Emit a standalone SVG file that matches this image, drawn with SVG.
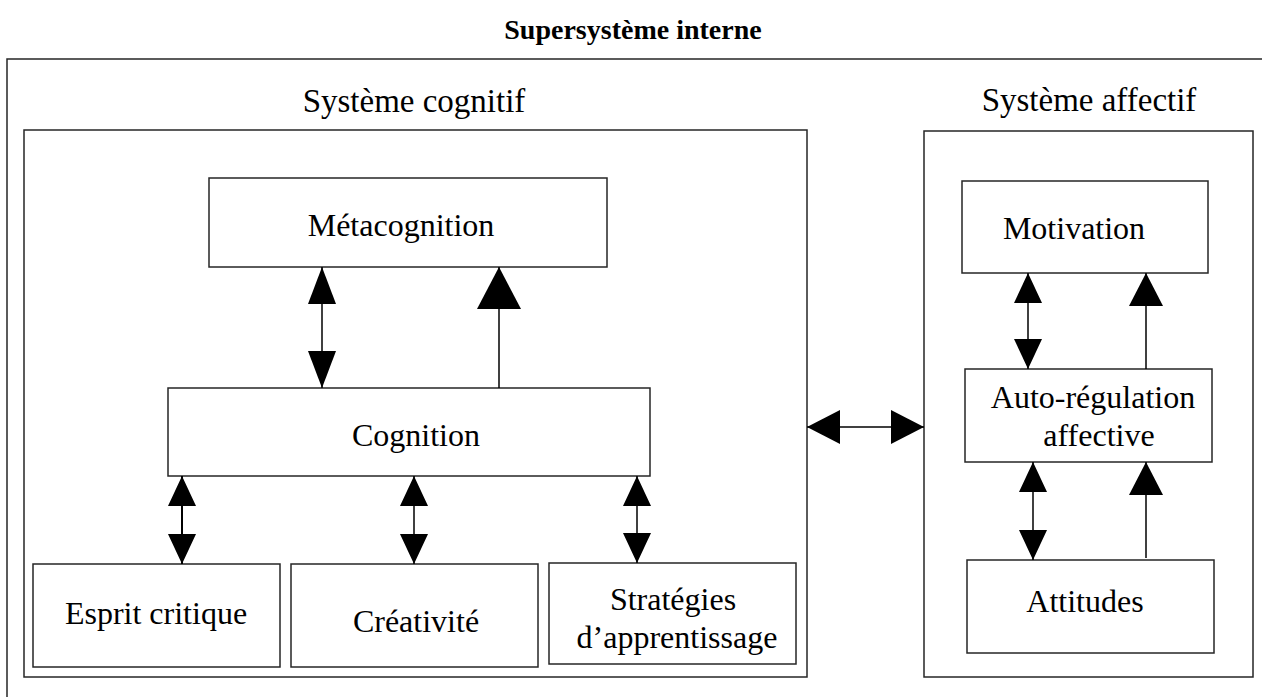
<svg xmlns="http://www.w3.org/2000/svg" width="1262" height="697" viewBox="0 0 1262 697">
<style>
.box{fill:#fff;stroke:#262626;stroke-width:1.5}
.frame{fill:none;stroke:#262626;stroke-width:1.5}
.lbl{font-family:"Liberation Serif","Times New Roman",serif;font-size:32px;fill:#000;text-anchor:middle}
.sys{font-family:"Liberation Serif","Times New Roman",serif;font-size:33px;fill:#000;text-anchor:middle}
.title{font-family:"Liberation Serif","Times New Roman",serif;font-size:28px;font-weight:bold;fill:#000;text-anchor:middle}
.con{fill:none;stroke:#000;stroke-width:1.5}
</style>
<defs>
<marker id="hS" markerUnits="userSpaceOnUse" markerWidth="30" markerHeight="28" refX="30" refY="14" orient="auto-start-reverse" viewBox="0 0 30 28"><path d="M0,0 L30,14 L0,28 z" fill="#000"/></marker>
<marker id="hD" markerUnits="userSpaceOnUse" markerWidth="37" markerHeight="28" refX="37" refY="14" orient="auto-start-reverse" viewBox="0 0 37 28"><path d="M0,0 L37,14 L0,28 z" fill="#000"/></marker>
<marker id="hM" markerUnits="userSpaceOnUse" markerWidth="33" markerHeight="34" refX="33" refY="17" orient="auto-start-reverse" viewBox="0 0 33 34"><path d="M0,0 L33,17 L0,34 z" fill="#000"/></marker>
<marker id="hL" markerUnits="userSpaceOnUse" markerWidth="42" markerHeight="44" refX="42" refY="22" orient="auto" viewBox="0 0 42 44"><path d="M0,0 L42,22 L0,44 z" fill="#000"/></marker>
</defs>
<text class="title" x="633" y="39">Supersystème interne</text>
<path class="frame" d="M7,697 L7,59 L1262,59"/>
<g id="systeme-cognitif">
<rect class="box" x="24" y="130" width="783" height="547"/>
<text class="sys" x="414" y="112">Système cognitif</text>
</g>
<g id="systeme-affectif">
<rect class="box" x="924" y="131" width="329" height="546"/>
<text class="sys" x="1089" y="111">Système affectif</text>
</g>
<g id="metacognition">
<rect class="box" x="209" y="178" width="398" height="89"/>
<text class="lbl" x="401" y="236">Métacognition</text>
</g>
<g id="cognition">
<rect class="box" x="168" y="388" width="482" height="88"/>
<text class="lbl" x="416" y="446">Cognition</text>
</g>
<g id="esprit-critique">
<rect class="box" x="33" y="564" width="247" height="103"/>
<text class="lbl" x="156" y="624">Esprit critique</text>
</g>
<g id="creativite">
<rect class="box" x="291" y="564" width="247" height="103"/>
<text class="lbl" x="416" y="632">Créativité</text>
</g>
<g id="strategies">
<rect class="box" x="549" y="563" width="247" height="101"/>
<text class="lbl" x="673" y="610">Stratégies</text>
<text class="lbl" x="677" y="648">d’apprentissage</text>
</g>
<g id="motivation">
<rect class="box" x="962" y="181" width="246" height="92"/>
<text class="lbl" x="1074" y="239">Motivation</text>
</g>
<g id="autoregulation">
<rect class="box" x="965" y="369" width="247" height="93"/>
<text class="lbl" x="1093" y="408">Auto-régulation</text>
<text class="lbl" x="1099" y="446">affective</text>
</g>
<g id="attitudes">
<rect class="box" x="967" y="560" width="247" height="93"/>
<text class="lbl" x="1085" y="612">Attitudes</text>
</g>
<g id="connectors">
<line class="con" x1="322" y1="267" x2="322" y2="388" marker-start="url(#hD)" marker-end="url(#hD)"/>
<line class="con" x1="499" y1="388" x2="499" y2="267" marker-end="url(#hL)"/>
<line class="con" x1="182" y1="476" x2="182" y2="564" marker-start="url(#hS)" marker-end="url(#hS)" style="stroke-width:2"/>
<line class="con" x1="414" y1="476" x2="414" y2="564" marker-start="url(#hS)" marker-end="url(#hS)"/>
<line class="con" x1="637" y1="476" x2="637" y2="563" marker-start="url(#hS)" marker-end="url(#hS)"/>
<line class="con" x1="807" y1="427" x2="924" y2="427" marker-start="url(#hM)" marker-end="url(#hM)"/>
<line class="con" x1="1028" y1="273" x2="1028" y2="369" marker-start="url(#hS)" marker-end="url(#hS)"/>
<line class="con" x1="1146" y1="369" x2="1146" y2="273" marker-end="url(#hM)"/>
<line class="con" x1="1033" y1="462" x2="1033" y2="560" marker-start="url(#hS)" marker-end="url(#hS)"/>
<line class="con" x1="1146" y1="558" x2="1146" y2="462" marker-end="url(#hM)"/>
</g>
</svg>
